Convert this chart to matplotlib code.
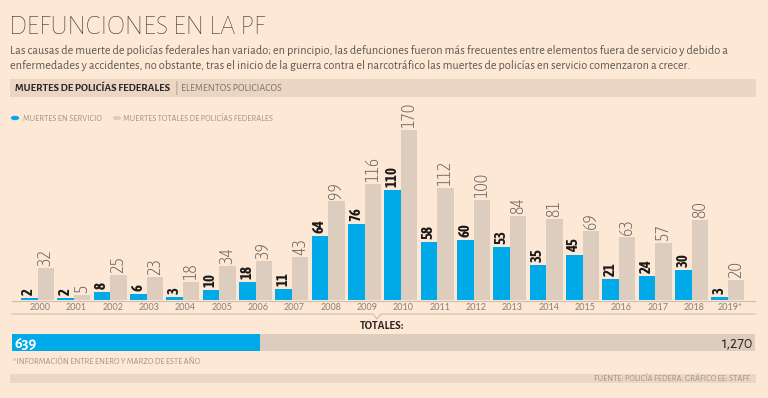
import matplotlib
matplotlib.use("Agg")
import matplotlib.pyplot as plt
from matplotlib.lines import Line2D
from matplotlib.patches import Rectangle, Circle
import numpy as np

# ---------------- data ----------------
years = ["2000", "2001", "2002", "2003", "2004", "2005", "2006", "2007", "2008", "2009",
         "2010", "2011", "2012", "2013", "2014", "2015", "2016", "2017", "2018", "2019*"]
en_servicio = [2, 2, 8, 6, 3, 10, 18, 11, 64, 76, 110, 58, 60, 53, 35, 45, 21, 24, 30, 3]
totales = [32, 5, 25, 23, 18, 34, 39, 43, 99, 116, 170, 112, 100, 84, 81, 69, 63, 57, 80, 20]
total_servicio = 639
total_general = 1270
total_labels = ["639", "1,270"]

# ---------------- style ----------------
W, H = 768, 398
BG = "#fde7d5"
BLUE = "#00a9e8"
GRAY = "#ddcdbe"
BAND = "#ebd6c4"
DARK = "#2b2522"
MID = "#5e5650"
LIGHT = "#9d918a"

HUM = ["Alegreya Sans", "Lato", "DejaVu Sans"]
COND = ["Asap Condensed", "Roboto Condensed", "DejaVu Sans"]
NUM = ["Lato", "DejaVu Sans"]

fig = plt.figure(figsize=(W / 100, H / 100), dpi=100, facecolor=BG)


def fx(x):
    return x / W


def fy(y):
    return 1 - y / H


def txt(x, y, s, **kw):
    kw.setdefault("family", HUM)
    fig.text(fx(x), fy(y), s, **kw)


def rect(x0, y0, x1, y1, color):
    fig.patches.append(Rectangle((fx(x0), fy(y1)), fx(x1) - fx(x0), fy(y0) - fy(y1),
                                 transform=fig.transFigure, facecolor=color,
                                 edgecolor="none", zorder=0))


# title & subtitle
txt(9, 27, "DEFUNCIONES EN LA PF", fontsize=20, weight="light", color=DARK, va="center")
txt(10, 50, "Las causas de muerte de policías federales han variado; en principio, las defunciones "
            "fueron más frecuentes entre elementos fuera de servicio y debido a",
    fontsize=8.85, color=MID, va="center")
txt(10, 65, "enfermedades y accidentes, no obstante, tras el inicio de la guerra contra el "
            "narcotráfico las muertes de policías en servicio comenzaron a crecer.",
    fontsize=8.85, color=MID, va="center")

# header band
rect(10, 79, 756, 97, BAND)
txt(15, 88.5, "MUERTES DE POLICÍAS FEDERALES", fontsize=7.9, weight="bold", color=DARK, va="center")
txt(174, 88.5, "|", fontsize=8.5, color=LIGHT, va="center")
txt(181, 88.5, "ELEMENTOS POLICIACOS", fontsize=7.3, color="#7d736c", va="center")

# legend
fig.patches.append(Circle((fx(15), fy(118)), 4.2 / W, transform=fig.transFigure,
                          facecolor=BLUE, edgecolor="none"))
txt(23, 118.5, "MUERTES EN SERVICIO", fontsize=6.2, color=LIGHT, va="center")
fig.patches.append(Circle((fx(117), fy(118)), 4.2 / W, transform=fig.transFigure,
                          facecolor=GRAY, edgecolor="none"))
txt(123, 118.5, "MUERTES TOTALES DE POLICÍAS FEDERALES", fontsize=6.2, color=LIGHT, va="center")

# ---------------- main bars ----------------
x_left, x_right = 12, 755
y_top, y_base = 100, 300
pitch = 36.34
c0 = 37.5
ax = fig.add_axes([fx(x_left), fy(y_base), fx(x_right) - fx(x_left), fy(y_top) - fy(y_base)])
ax.set_facecolor("none")
ax.set_xlim((x_left - c0) / pitch, (x_right - c0) / pitch)
ax.set_ylim(0, y_base - y_top)
idx = np.arange(len(years))
bw = 0.455
ax.bar(idx - bw / 2, en_servicio, width=bw, color=BLUE, linewidth=0)
ax.bar(idx + bw / 2, totales, width=bw, color=GRAY, linewidth=0)
for i in idx:
    ax.annotate(str(en_servicio[i]), (i - bw / 2, en_servicio[i]), xytext=(0, 2.5),
                textcoords="offset points", rotation=90, ha="center", va="bottom",
                fontsize=10.5, weight="bold", color="#1c1a19", family=COND)
    ax.annotate(str(totales[i]), (i + bw / 2, totales[i]), xytext=(0, 1.5),
                textcoords="offset points", rotation=90, ha="center", va="bottom",
                fontsize=13, weight="light", color="#6c635d", family=COND)
    ax.text(i + 0.07, -8, years[i], ha="center", va="center", fontsize=6.5,
            weight="normal", color="#8a7f78", family=NUM, clip_on=False)
for s in ax.spines.values():
    s.set_visible(False)
ax.set_xticks([])
ax.set_yticks([])

# baseline and lower line with notch
fig.lines.append(Line2D([fx(12), fx(755)], [fy(300.5), fy(300.5)], transform=fig.transFigure,
                        color="#cdbdaf", lw=0.8))
fig.lines.append(Line2D([fx(12), fx(373), fx(377), fx(381), fx(755)],
                        [fy(314), fy(314), fy(319), fy(314), fy(314)],
                        transform=fig.transFigure, color="#cdbdaf", lw=0.8))

txt(382, 325.5, "TOTALES:", fontsize=8.2, weight="bold", color=DARK, ha="center", va="center")

# ---------------- totals bar ----------------
axt = fig.add_axes([fx(12), fy(351), fx(755) - fx(12), fy(334) - fy(351)])
axt.set_facecolor("none")
blue_frac = (260 - 12) / (755 - 12)
left_lim = (total_servicio - blue_frac * total_general) / (1 - blue_frac)
axt.set_xlim(left_lim, total_general)
axt.set_ylim(-0.5, 0.5)
axt.barh(0, total_general, height=1, color=GRAY, linewidth=0)
axt.barh(0, total_servicio, height=1, color=BLUE, linewidth=0)
axt.text(0.003, 0.45, total_labels[0], transform=axt.transAxes, ha="left", va="center",
         fontsize=11.5, weight="bold", color="white", family=HUM)
axt.text(0.997, 0.45, total_labels[1], transform=axt.transAxes, ha="right", va="center",
         fontsize=11.5, color=DARK, family=HUM)
for s in axt.spines.values():
    s.set_visible(False)
axt.set_xticks([])
axt.set_yticks([])

# footnote & source
txt(13, 362, "*INFORMACIÓN ENTRE ENERO Y MARZO DE ESTE AÑO", fontsize=6.2, color=LIGHT, va="center")
rect(10, 374, 756, 383, BAND)
txt(752, 378.5, "FUENTE: POLICÍA FEDERA. GRÁFICO EE: STAFF.", fontsize=6.2, color=LIGHT,
    ha="right", va="center")

fig.savefig("out.png", dpi=100, facecolor=BG)
